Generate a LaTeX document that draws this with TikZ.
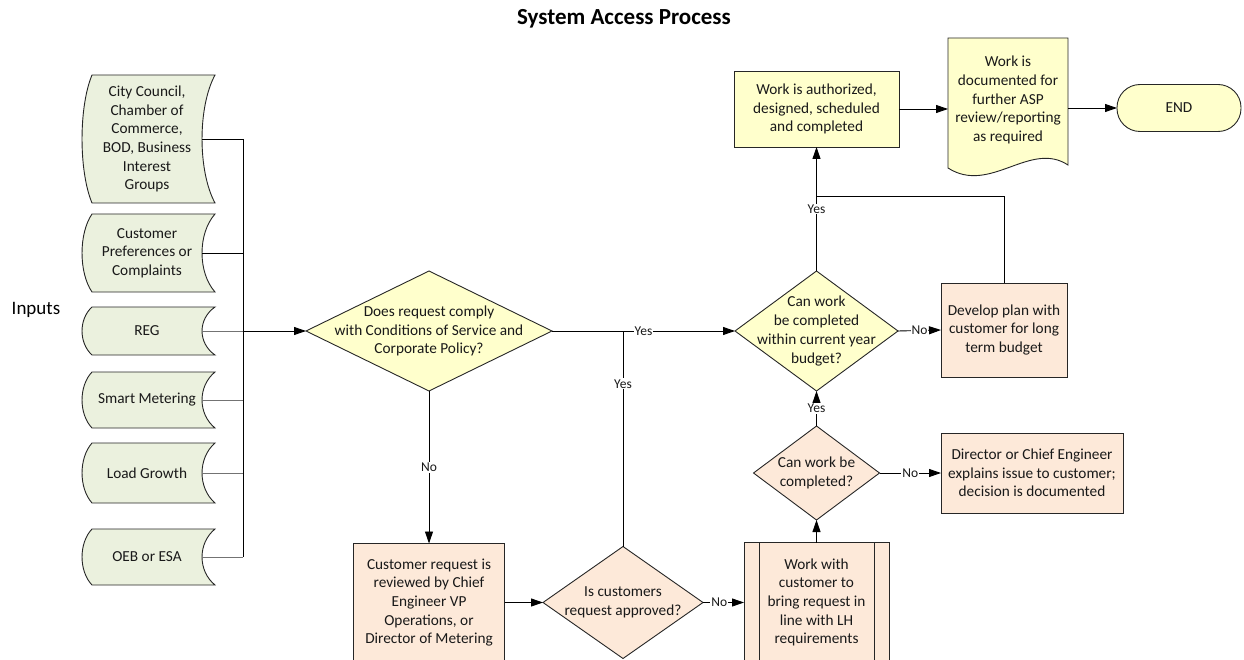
\documentclass[tikz,border=0pt]{standalone}
\usepackage{fontspec}
\setmainfont{Carlito}
\usetikzlibrary{shapes.geometric,arrows.meta}
\definecolor{ingreen}{HTML}{EBF1DE}
\definecolor{pyel}{HTML}{FFFFCC}
\definecolor{ppeach}{HTML}{FDE9D9}
\definecolor{bord}{HTML}{262626}
\newcommand\inshape[4]{%
  \draw[inbord] (92,#2) -- (215,#2)
    .. controls (197.7,{#2+0.25*(#3-#2)}) and (197.7,{#3-0.25*(#3-#2)}) .. (215,#3)
    -- (92,#3)
    .. controls (78.7,{#3-0.25*(#3-#2)}) and (78.7,{#2+0.25*(#3-#2)}) .. (92,#2) -- cycle;
  \node[intext, minimum height={#3-#2}] (#1) at (147,{(#2+#3)/2}) {#4};
}
\begin{document}
\begin{tikzpicture}[x=1pt,y=-1pt,
  txt/.style={font=\fontsize{15.3}{18.7}\selectfont, align=center, text=black!90},
  box/.style={draw=bord, line width=0.9pt, txt, inner sep=0pt, outer sep=0pt},
  dia/.style={diamond, draw=bord, line width=0.9pt, inner sep=0pt, outer sep=0pt},
  dtext/.style={txt},
  inbord/.style={draw=bord, line width=0.9pt, fill=ingreen},
  intext/.style={txt, minimum width=110, inner sep=0pt, outer sep=0pt},
  yesno/.style={font=\fontsize{13.5}{16}\selectfont, fill=white, inner sep=1pt, text=black!90},
  ln/.style={line width=0.9pt, draw=black},
  gln/.style={line width=0.9pt, draw=black!55},
  arr/.style={line width=0.9pt, draw=black, -{Triangle[length=12pt,width=8pt]}}
]
\path[use as bounding box] (0,0) rectangle (1244,660);
\clip (0,0) rectangle (1244,660);

% title
\node[font=\bfseries\fontsize{23}{27}\selectfont] (title) at (624,19) {System Access Process};
\node[font=\fontsize{19}{22}\selectfont] (inputs) at (36,310) {Inputs};

% inputs
\inshape{in1}{75}{203}{City Council,\\Chamber of\\Commerce,\\BOD, Business\\Interest\\Groups}
\inshape{in2}{214}{292}{Customer\\Preferences or\\Complaints}
\inshape{in3}{307}{355}{REG}
\inshape{in4}{372}{428}{Smart Metering}
\inshape{in5}{443}{503}{Load Growth}
\inshape{in6}{529}{585}{OEB or ESA}

\coordinate (bus) at (243,331);
\draw[ln] (in1.east) -- (in1.east -| bus);
\draw[ln] (in2.east) -- (in2.east -| bus);
\draw[gln] (in3.east) -- (in3.east -| bus);
\draw[gln] (in4.east) -- (in4.east -| bus);
\draw[gln] (in5.east) -- (in5.east -| bus);
\draw[gln] (in6.east) -- (in6.east -| bus);
\draw[ln] (in1.east -| bus) -- (in6.east -| bus);

% decisions
\node[dia, fill=pyel, minimum width=246, minimum height=120,
  label={[dtext]center:{Does request comply\\with Conditions of Service and\\Corporate Policy?}}] (d1) at (429,331) {};
\node[dia, fill=pyel, minimum width=163, minimum height=120,
  label={[dtext]center:{Can work\\be completed\\within current year\\budget?}}] (d2) at (816.5,331) {};
\node[dia, fill=ppeach, minimum width=160, minimum height=112,
  label={[dtext]center:{Is customers\\request approved?}}] (d3) at (623,602.5) {};
\node[dia, fill=ppeach, minimum width=126, minimum height=94,
  label={[dtext]center:{Can work be\\completed?}}] (d4) at (816.5,473) {};

% processes
\node[box, fill=ppeach, minimum width=151, minimum height=118] (b1) at (429,602.5)
  {Customer request is\\reviewed by Chief\\Engineer VP\\Operations, or\\Director of Metering};
\node[box, fill=ppeach, minimum width=145, minimum height=120] (b4) at (816.5,602.5)
  {Work with\\customer to\\bring request in\\line with LH\\requirements};
\draw[line width=0.9pt, draw=bord] ([xshift=15pt]b4.north west) -- ([xshift=15pt]b4.south west);
\draw[line width=0.9pt, draw=bord] ([xshift=-15pt]b4.north east) -- ([xshift=-15pt]b4.south east);
\node[box, fill=ppeach, minimum width=182, minimum height=80] (b5) at (1032,473)
  {Director or Chief Engineer\\explains issue to customer;\\decision is documented};
\node[box, fill=ppeach, minimum width=126, minimum height=94] (b6) at (1004,330)
  {Develop plan with\\customer for long\\term budget};
\node[box, fill=pyel, minimum width=165, minimum height=76] (b7) at (816.5,109)
  {Work is authorized,\\designed, scheduled\\and completed};

% document
\draw[draw=bord, line width=0.9pt, fill=pyel] (948,38) -- (1068,38) -- (1068,165)
  .. controls (1030,140) and (990,195) .. (948,168) -- cycle;
\node[txt, minimum width=120, minimum height=124, inner sep=0pt, outer sep=0pt] (doc) at (1008,100)
  {Work is\\documented for\\further ASP\\review/reporting\\as required};

% terminator
\node[box, fill=pyel, rounded corners=23pt, minimum width=124, minimum height=47] (term) at (1179,108) {END};

% connectors
\draw[arr] (bus) -- (d1.west);
\draw[arr] (d1.east) -- node[yesno]{Yes} (d2.west);
\draw[ln] (d3.north) -- node[yesno, pos=0.755]{Yes} (d3.north |- d1.east);
\draw[arr] (d1.south) -- node[yesno]{No} (b1.north);
\draw[arr] (b1.east) -- (d3.west);
\draw[arr] (d3.east) -- node[yesno, pos=0.4]{No} (b4.west);
\draw[arr] (b4.north) -- (d4.south);
\draw[arr] (d4.east) -- node[yesno]{No} (b5.west);
\draw[arr] (d4.north) -- node[yesno]{Yes} (d2.south);
\draw[arr] (d2.east) -- node[yesno]{No} (b6.west);
\coordinate (j2) at (816.5,196);
\draw[ln] (b6.north) |- (j2);
\draw[arr] (d2.north) -- node[yesno]{Yes} (b7.south);
\draw[arr] (b7.east) -- (b7.east -| doc.west);
\draw[arr] (term.west -| doc.east) -- (term.west);
\end{tikzpicture}
\end{document}
